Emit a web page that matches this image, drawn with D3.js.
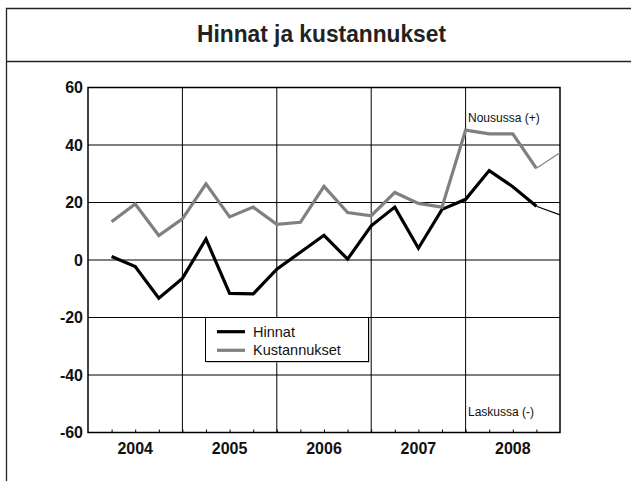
<!DOCTYPE html>
<html>
<head>
<meta charset="utf-8">
<script src="https://cdn.jsdelivr.net/npm/d3@7"></script>
<style>
  body { margin: 0; background: #fff; }
  text { font-family: "Liberation Sans", Arial, sans-serif; }
</style>
</head>
<body>
<div id="chart"></div>
<script>
// quarterly data 2004Q1 - 2008Q4, last quarter drawn thin
var years = ["2004", "2005", "2006", "2007", "2008"];
var yTicks = [-60, -40, -20, 0, 20, 40, 60];
var hinnat = [1.2, -2.3, -13.3, -6.4, 7.3, -11.6, -11.8, -3.2, 2.7, 8.6,
              0.3, 11.9, 18.4, 4.1, 17.6, 21.1, 31.1, 25.5, 18.7, 15.7];
var kustannukset = [13.3, 19.5, 8.5, 14.3, 26.5, 15.0, 18.4, 12.4, 13.1, 25.6,
                    16.5, 15.4, 23.5, 19.7, 18.4, 45.2, 43.9, 43.9, 31.9, 37.3];
var seriesNames = ["Hinnat", "Kustannukset"];
var seriesColors = ["#000000", "#808080"];

var svgWidth = 631;
var svgHeight = 481;

var svg = d3.select("#chart").append("svg")
    .attr("width", svgWidth)
    .attr("height", svgHeight);

// frame + title
svg.append("path")
    .attr("d", "M6.5,481 V8.5 H631 M6.5,61.5 H631")
    .attr("fill", "none")
    .attr("stroke", "#222")
    .attr("stroke-width", 1.3);

svg.append("text")
    .attr("x", 321.5)
    .attr("y", 41.5)
    .attr("text-anchor", "middle")
    .attr("font-size", 23)
    .attr("font-weight", "bold")
    .attr("fill", "#222")
    .attr("textLength", 249)
    .attr("lengthAdjust", "spacingAndGlyphs")
    .text("Hinnat ja kustannukset");

var xScale = d3.scaleLinear().domain([0, 20]).range([88, 560]);
var yScale = d3.scaleLinear().domain([-60, 60]).range([432.5, 87.5]);

var chartGroup = svg.append("g");

// horizontal grid
chartGroup.selectAll(".hgrid")
    .data(yTicks.filter(d => d > -60 && d < 60))
    .enter().append("line")
    .attr("x1", xScale(0)).attr("x2", xScale(20))
    .attr("y1", d => yScale(d)).attr("y2", d => yScale(d))
    .attr("stroke", "#000").attr("stroke-width", 1);

// vertical year dividers
chartGroup.selectAll(".vgrid")
    .data([4, 8, 12, 16])
    .enter().append("line")
    .attr("x1", d => xScale(d)).attr("x2", d => xScale(d))
    .attr("y1", yScale(60)).attr("y2", yScale(-60))
    .attr("stroke", "#000").attr("stroke-width", 1);

// plot border
chartGroup.append("rect")
    .attr("x", xScale(0)).attr("y", yScale(60))
    .attr("width", xScale(20) - xScale(0))
    .attr("height", yScale(-60) - yScale(60))
    .attr("fill", "none").attr("stroke", "#000").attr("stroke-width", 1.5);

// y axis labels (plain hyphen minus like the original)
var yAxis = d3.axisLeft(yScale).tickValues(yTicks).tickSize(0).tickPadding(5)
    .tickFormat(d => String(d));
var yG = chartGroup.append("g")
    .attr("transform", `translate(${xScale(0)},0)`)
    .call(yAxis);
yG.select(".domain").remove();
yG.selectAll("text")
    .attr("font-size", 16).attr("font-weight", "bold")
    .attr("font-family", "Liberation Sans, Arial, sans-serif")
    .attr("fill", "#111");

// x axis: inward quarter ticks
var xAxis = d3.axisBottom(xScale)
    .tickValues(d3.range(1, 20))
    .tickSize(-3)
    .tickFormat("");
var xG = chartGroup.append("g")
    .attr("transform", `translate(0,${yScale(-60)})`)
    .call(xAxis);
xG.select(".domain").remove();
xG.selectAll("line").attr("stroke", "#000");

chartGroup.selectAll(".year")
    .data(years)
    .enter().append("text")
    .attr("x", (d, i) => xScale(i * 4 + 2))
    .attr("y", 453.5)
    .attr("text-anchor", "middle")
    .attr("font-size", 16).attr("font-weight", "bold")
    .attr("fill", "#111")
    .text(d => d);

// lines
var line = d3.line()
    .x(d => xScale(d.i))
    .y(d => yScale(d.v));

[hinnat, kustannukset].forEach(function(values, k) {
    var pts = values.map((v, j) => ({ i: j + 1, v: v }));
    chartGroup.append("path")
        .datum(pts.slice(0, 19))
        .attr("d", line)
        .attr("fill", "none")
        .attr("stroke", seriesColors[k])
        .attr("stroke-width", 3.2);
    chartGroup.append("path")
        .datum(pts.slice(18))
        .attr("d", line)
        .attr("fill", "none")
        .attr("stroke", seriesColors[k])
        .attr("stroke-width", 1.1);
});

// annotations
chartGroup.append("text")
    .attr("x", 468).attr("y", 121.5)
    .attr("font-size", 12).attr("fill", "#111")
    .text("Nousussa (+)");
chartGroup.append("text")
    .attr("x", 468).attr("y", 415.5)
    .attr("font-size", 12).attr("fill", "#111")
    .text("Laskussa (-)");

// legend
var legend = svg.append("g");
legend.append("rect")
    .attr("x", 206.5).attr("y", 318.5)
    .attr("width", 163).attr("height", 44)
    .attr("fill", "#999");
legend.append("rect")
    .attr("x", 205.5).attr("y", 317.5)
    .attr("width", 163).attr("height", 44)
    .attr("fill", "#fff").attr("stroke", "#000").attr("stroke-width", 1);

seriesNames.forEach(function(name, k) {
    var y = 331.7 + k * 18.6;
    legend.append("line")
        .attr("x1", 217).attr("x2", 245)
        .attr("y1", y).attr("y2", y)
        .attr("stroke", seriesColors[k]).attr("stroke-width", 3.2);
    legend.append("text")
        .attr("x", 253).attr("y", y + 5)
        .attr("font-size", 14.5).attr("fill", "#111")
        .text(name);
});
</script>
</body>
</html>
